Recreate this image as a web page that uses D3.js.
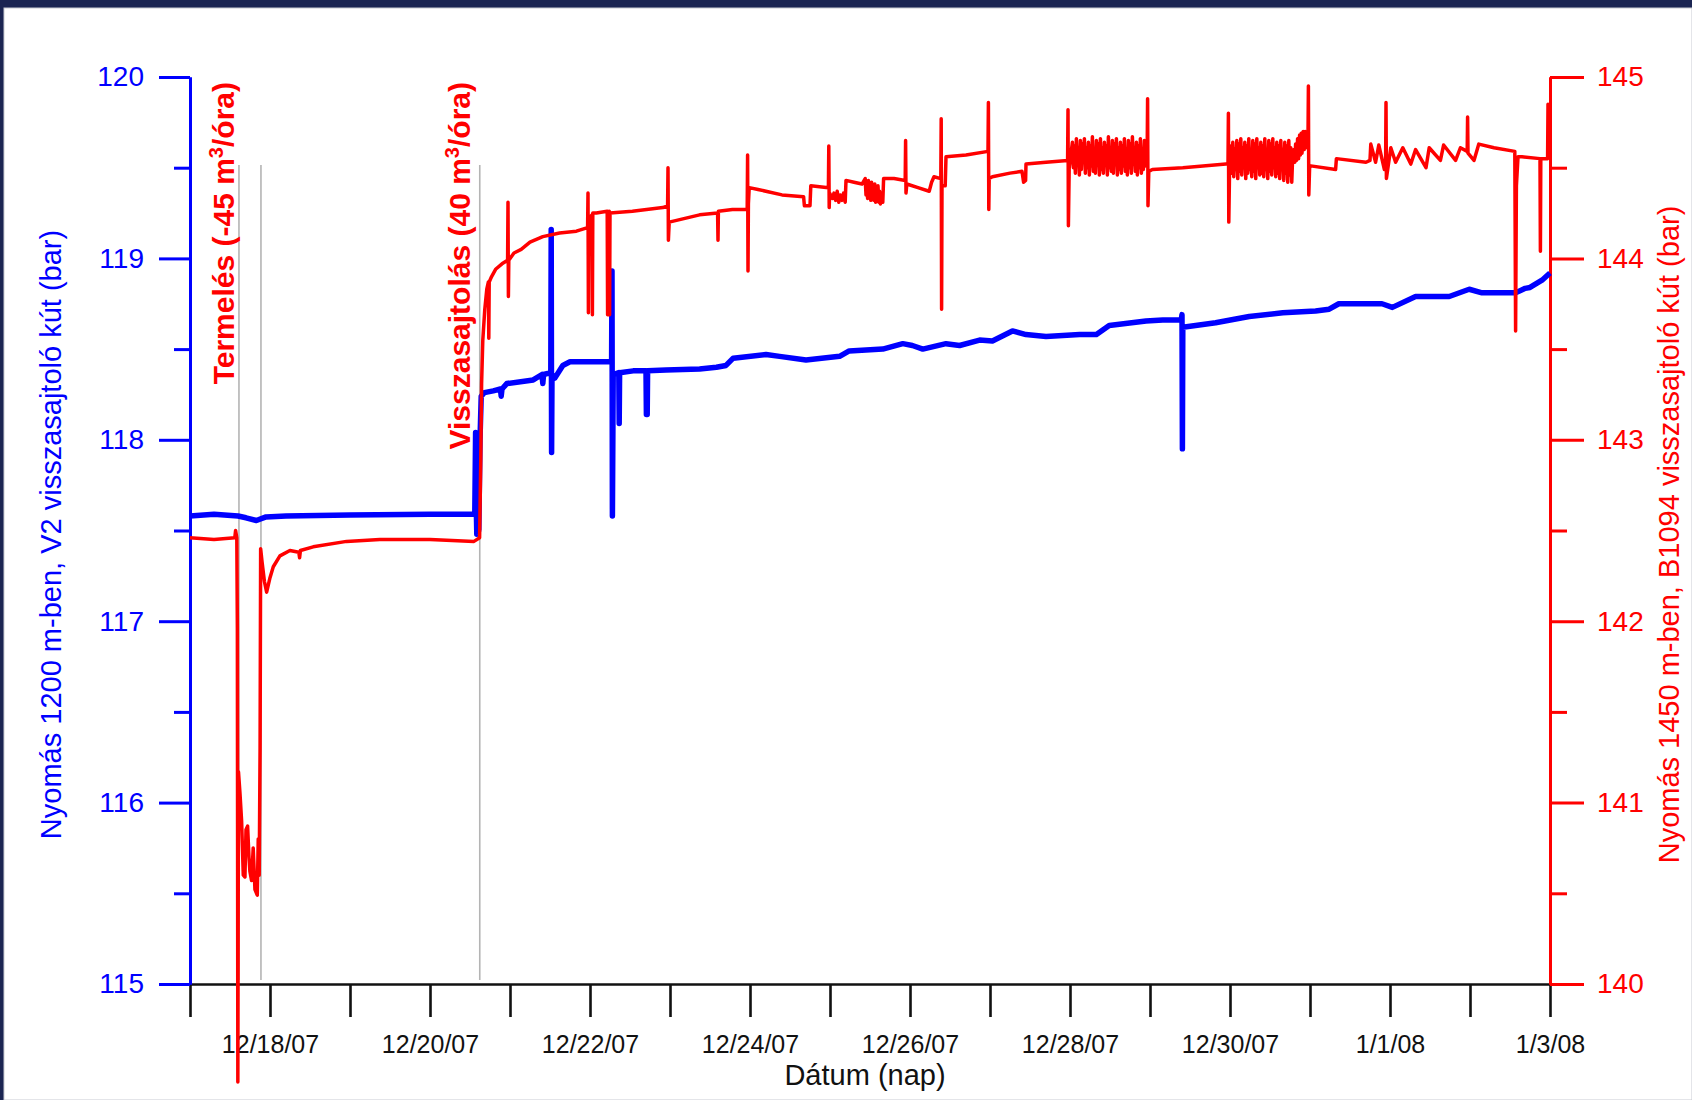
<!DOCTYPE html>
<html>
<head>
<meta charset="utf-8">
<script src="https://cdn.jsdelivr.net/npm/d3@7"></script>
<style>
  html, body { margin: 0; padding: 0; background: #1b2552; }
  svg { display: block; }
  text { font-family: "Liberation Sans", Arial, sans-serif; }
</style>
</head>
<body>
<svg id="chart" width="1692" height="1100"></svg>
<script>
// Time is given in days elapsed since 12/17/2007 00:00, pressure in bar.

// V2 injection well, pressure at 1200 m (left axis)
const v2Pressure = [
  [0, 117.58], [0.3, 117.59], [0.6, 117.58], [0.7, 117.57], [0.83, 117.555],
  [0.95, 117.575], [1.2, 117.58], [2.0, 117.585], [3.0, 117.59], [3.54, 117.59],
  [3.56, 117.60], [3.57, 118.04], [3.575, 117.70], [3.585, 117.48], [3.595, 117.60],
  [3.61, 117.50], [3.625, 118.0], [3.64, 118.24], [3.68, 118.26], [3.79, 118.27],
  [3.88, 118.28], [3.89, 118.24], [3.90, 118.28], [3.96, 118.31], [4.29, 118.33],
  [4.40, 118.36], [4.41, 118.31], [4.42, 118.36], [4.51, 118.37], [4.515, 119.16],
  [4.52, 117.93], [4.525, 118.36], [4.56, 118.34], [4.66, 118.41], [4.75, 118.43],
  [5.27, 118.43], [5.275, 118.93], [5.28, 117.58], [5.29, 118.36], [5.36, 118.37],
  [5.365, 118.09], [5.37, 118.37], [5.54, 118.38], [5.70, 118.38], [5.705, 118.14],
  [5.715, 118.14], [5.72, 118.38], [5.95, 118.385], [6.37, 118.39], [6.58, 118.40],
  [6.70, 118.41], [6.79, 118.45], [7.2, 118.47], [7.37, 118.46], [7.7, 118.44],
  [8.12, 118.46], [8.24, 118.49], [8.66, 118.50], [8.91, 118.53], [9.03, 118.52],
  [9.16, 118.50], [9.45, 118.53], [9.62, 118.52], [9.87, 118.55], [10.03, 118.545],
  [10.28, 118.60], [10.45, 118.58], [10.70, 118.57], [11.12, 118.58], [11.33, 118.58],
  [11.49, 118.63], [11.95, 118.655], [12.16, 118.66], [12.39, 118.66], [12.40, 118.69],
  [12.405, 117.95], [12.41, 118.62], [12.82, 118.645], [13.24, 118.68], [13.66, 118.70],
  [14.07, 118.71], [14.24, 118.72], [14.36, 118.75], [14.9, 118.75], [15.03, 118.73],
  [15.32, 118.79], [15.74, 118.79], [15.99, 118.83], [16.15, 118.81], [16.57, 118.81],
  [16.69, 118.835], [16.75, 118.84], [16.9, 118.88], [17.0, 118.92]
];

// B1094 injection well, pressure at 1450 m (right axis)
const b1094Pressure = [
  [0, 142.46], [0.3, 142.45], [0.56, 142.46], [0.57, 142.50], [0.585, 142.46],
  [0.592, 141.96], [0.598, 139.46], [0.606, 141.17], [0.625, 141.05], [0.645, 140.9],
  [0.666, 140.60], [0.687, 140.59], [0.70, 140.85], [0.72, 140.87], [0.737, 140.70],
  [0.749, 140.62], [0.77, 140.57], [0.79, 140.75], [0.812, 140.52], [0.841, 140.49],
  [0.853, 140.80], [0.865, 140.60], [0.876, 141.3], [0.883, 142.40], [0.90, 142.33],
  [0.93, 142.22], [0.958, 142.16], [1.0, 142.24], [1.041, 142.30], [1.124, 142.36],
  [1.249, 142.39], [1.36, 142.38], [1.37, 142.35], [1.38, 142.39], [1.54, 142.41],
  [1.957, 142.44], [2.373, 142.45], [3.0, 142.45], [3.55, 142.44], [3.62, 142.46],
  [3.635, 142.9], [3.645, 143.31], [3.66, 143.55], [3.685, 143.72], [3.71, 143.83],
  [3.73, 143.87], [3.735, 143.56], [3.74, 143.87], [3.77, 143.90], [3.82, 143.94],
  [3.90, 143.97], [3.97, 143.99], [3.975, 144.31], [3.98, 143.79], [3.985, 143.99],
  [4.05, 144.03], [4.14, 144.05], [4.25, 144.09], [4.41, 144.12], [4.62, 144.14],
  [4.83, 144.15], [4.97, 144.17], [4.975, 144.36], [4.98, 143.70], [4.985, 144.22],
  [5.025, 144.24], [5.03, 143.69], [5.035, 144.25], [5.08, 144.25], [5.215, 144.26],
  [5.22, 143.69], [5.225, 144.25], [5.24, 144.26], [5.245, 143.69], [5.25, 144.25],
  [5.53, 144.26], [5.91, 144.28], [5.97, 144.29], [5.975, 144.50], [5.98, 144.10],
  [5.99, 144.20], [6.37, 144.24], [6.595, 144.25], [6.60, 144.10], [6.605, 144.26],
  [6.78, 144.27], [6.965, 144.27], [6.97, 144.57], [6.975, 143.93], [6.98, 144.30],
  [6.99, 144.39], [7.1, 144.38], [7.4, 144.35], [7.67, 144.34], [7.68, 144.29],
  [7.75, 144.29], [7.76, 144.40], [7.98, 144.39], [7.985, 144.62], [7.99, 144.28],
  [7.995, 144.36], [8.03, 144.33], [8.05, 144.36], [8.07, 144.32], [8.09, 144.37],
  [8.11, 144.31], [8.13, 144.35], [8.15, 144.32], [8.17, 144.36], [8.19, 144.31],
  [8.20, 144.43], [8.30, 144.42], [8.40, 144.41],
  [8.44, 144.44], [8.45, 144.35], [8.46, 144.42], [8.47, 144.33], [8.48, 144.43],
  [8.49, 144.34], [8.50, 144.41], [8.51, 144.32], [8.52, 144.42], [8.53, 144.33],
  [8.54, 144.40], [8.55, 144.32], [8.56, 144.41], [8.57, 144.31], [8.58, 144.39],
  [8.59, 144.32], [8.60, 144.40], [8.61, 144.31], [8.62, 144.37], [8.63, 144.30],
  [8.64, 144.36], [8.66, 144.31], [8.67, 144.44], [8.80, 144.44], [8.94, 144.43],
  [8.945, 144.65], [8.95, 144.36], [8.96, 144.41], [9.10, 144.39], [9.24, 144.37],
  [9.27, 144.42], [9.30, 144.45], [9.385, 144.44], [9.39, 144.77], [9.395, 143.72],
  [9.40, 144.40], [9.44, 144.40], [9.45, 144.56], [9.70, 144.57], [9.975, 144.59],
  [9.98, 144.86], [9.985, 144.27], [9.99, 144.44], [10.03, 144.45], [10.25, 144.47],
  [10.40, 144.48], [10.42, 144.42], [10.445, 144.43], [10.45, 144.52], [10.70, 144.53],
  [10.97, 144.54], [10.975, 144.82], [10.98, 144.18], [10.99, 144.50],
  [11.030, 144.64], [11.042, 144.50], [11.055, 144.62], [11.067, 144.47], [11.080, 144.66],
  [11.092, 144.52], [11.105, 144.60], [11.117, 144.46], [11.130, 144.65], [11.142, 144.49],
  [11.155, 144.63], [11.167, 144.53], [11.180, 144.66], [11.192, 144.47], [11.205, 144.61],
  [11.217, 144.50], [11.230, 144.64], [11.242, 144.46], [11.255, 144.62], [11.267, 144.51],
  [11.280, 144.67], [11.292, 144.48], [11.305, 144.60], [11.317, 144.47], [11.330, 144.65],
  [11.342, 144.52], [11.355, 144.63], [11.367, 144.46], [11.380, 144.66], [11.392, 144.49],
  [11.405, 144.61], [11.417, 144.47], [11.430, 144.64], [11.442, 144.53], [11.455, 144.62],
  [11.467, 144.46], [11.480, 144.67], [11.492, 144.50], [11.505, 144.60], [11.517, 144.48],
  [11.530, 144.65], [11.542, 144.47], [11.555, 144.63], [11.567, 144.52], [11.580, 144.66],
  [11.592, 144.46], [11.605, 144.61], [11.617, 144.49], [11.630, 144.64], [11.642, 144.47],
  [11.655, 144.62], [11.667, 144.51], [11.680, 144.66], [11.692, 144.48], [11.705, 144.60],
  [11.717, 144.46], [11.730, 144.65], [11.742, 144.50], [11.755, 144.63], [11.767, 144.47],
  [11.780, 144.67], [11.792, 144.52], [11.805, 144.61], [11.817, 144.48], [11.830, 144.64],
  [11.842, 144.46], [11.855, 144.62], [11.867, 144.50], [11.880, 144.66], [11.892, 144.47],
  [11.905, 144.60], [11.917, 144.49], [11.930, 144.65], [11.942, 144.51], [11.955, 144.62],
  [11.965, 144.60], [11.97, 144.88], [11.975, 144.29], [11.985, 144.48], [12.03, 144.49],
  [12.41, 144.50], [12.95, 144.52], [12.975, 144.52], [12.98, 144.80], [12.985, 144.20],
  [12.995, 144.50],
  [13.010, 144.62], [13.022, 144.47], [13.035, 144.64], [13.047, 144.45], [13.060, 144.60],
  [13.072, 144.49], [13.085, 144.65], [13.097, 144.44], [13.110, 144.63], [13.122, 144.48],
  [13.135, 144.66], [13.147, 144.46], [13.160, 144.61], [13.172, 144.50], [13.185, 144.64],
  [13.197, 144.44], [13.210, 144.62], [13.222, 144.47], [13.235, 144.66], [13.247, 144.49],
  [13.260, 144.60], [13.272, 144.45], [13.285, 144.65], [13.297, 144.48], [13.310, 144.63],
  [13.322, 144.44], [13.335, 144.66], [13.347, 144.50], [13.360, 144.61], [13.372, 144.46],
  [13.385, 144.64], [13.397, 144.47], [13.410, 144.62], [13.422, 144.45], [13.435, 144.66],
  [13.447, 144.49], [13.460, 144.60], [13.472, 144.44], [13.485, 144.65], [13.497, 144.48],
  [13.510, 144.63], [13.522, 144.46], [13.535, 144.66], [13.547, 144.50], [13.560, 144.61],
  [13.572, 144.45], [13.585, 144.64], [13.597, 144.47], [13.610, 144.62], [13.622, 144.44],
  [13.635, 144.65], [13.647, 144.49], [13.660, 144.60], [13.672, 144.43], [13.685, 144.64],
  [13.697, 144.47], [13.710, 144.62], [13.722, 144.42], [13.735, 144.65], [13.747, 144.46],
  [13.760, 144.61], [13.772, 144.42], [13.785, 144.58], [13.80, 144.60], [13.81, 144.53],
  [13.82, 144.63], [13.83, 144.54], [13.845, 144.66], [13.857, 144.55], [13.87, 144.68],
  [13.88, 144.57], [13.89, 144.69], [13.90, 144.58], [13.915, 144.70], [13.927, 144.60],
  [13.94, 144.70], [13.95, 144.61], [13.96, 144.68], [13.975, 144.66], [13.98, 144.95],
  [13.985, 144.35], [13.995, 144.50], [14.01, 144.51],
  [14.32, 144.49], [14.33, 144.55], [14.70, 144.53], [14.75, 144.54], [14.76, 144.63],
  [14.82, 144.53], [14.86, 144.625], [14.93, 144.49], [14.945, 144.52], [14.95, 144.86],
  [14.955, 144.44], [15.01, 144.61], [15.07, 144.53], [15.16, 144.61], [15.26, 144.52],
  [15.32, 144.60], [15.45, 144.50], [15.49, 144.61], [15.63, 144.54], [15.67, 144.625],
  [15.82, 144.54], [15.88, 144.61], [15.965, 144.59], [15.97, 144.78], [15.975, 144.58],
  [16.05, 144.54], [16.11, 144.63], [16.30, 144.61], [16.56, 144.59], [16.57, 143.60],
  [16.58, 144.40], [16.60, 144.56], [16.65, 144.56], [16.875, 144.55], [16.88, 144.04],
  [16.885, 144.55], [16.97, 144.55], [16.975, 144.85], [16.985, 144.56], [17.0, 144.55]
];

// Start of production, end of production, start of injection (days)
const eventDays = [0.612, 0.887, 3.622];

const leftMajor = [115, 116, 117, 118, 119, 120];
const leftMinor = [115.5, 116.5, 117.5, 118.5, 119.5];
const rightMajor = [140, 141, 142, 143, 144, 145];
const rightMinor = [140.5, 141.5, 142.5, 143.5, 144.5];

const startDate = new Date(2007, 11, 17);
const endDate = new Date(2008, 0, 3);
const dayMs = 864e5;
const toDate = t => new Date(startDate.getTime() + t * dayMs);

const BLUE = "#0000ff";
const RED = "#ff0000";

const svg = d3.select("#chart");

// page frame
svg.append("rect").attr("x", 0).attr("y", 0).attr("width", 1692).attr("height", 1100).attr("fill", "#1b2552");
svg.append("rect").attr("x", 4).attr("y", 8).attr("width", 1688).attr("height", 1092)
  .attr("fill", "#ffffff").attr("stroke", "#c9cbd2").attr("stroke-width", 1);

const plot = { left: 190, right: 1550, top: 77, bottom: 984 };

const x = d3.scaleTime().domain([startDate, endDate]).range([plot.left, plot.right]);
const yL = d3.scaleLinear().domain([115, 120]).range([plot.bottom, plot.top]);
const yR = d3.scaleLinear().domain([140, 145]).range([plot.bottom, plot.top]);

// event markers
svg.append("g").selectAll("line").data(eventDays).join("line")
  .attr("x1", d => x(toDate(d))).attr("x2", d => x(toDate(d)))
  .attr("y1", 165).attr("y2", 980)
  .attr("stroke", "#b4b4b4").attr("stroke-width", 1.6);

function styleAxis(g, color, width, fontSize) {
  g.select(".domain").attr("stroke", color).attr("stroke-width", width);
  g.selectAll(".tick line").attr("stroke", color).attr("stroke-width", width);
  g.selectAll(".tick text").attr("fill", color).attr("font-size", fontSize)
    .attr("font-family", '"Liberation Sans", Arial, sans-serif');
}

// x axis: a tick per day, labels every second day
const fmt = d3.timeFormat("%-m/%-d/%y");
const gx = svg.append("g").attr("transform", `translate(0,${plot.bottom})`)
  .call(d3.axisBottom(x).ticks(d3.timeDay.every(1)).tickSize(33).tickSizeOuter(0).tickPadding(18)
    .tickFormat(d => (d3.timeDay.count(startDate, d) % 2 === 1 ? fmt(d) : "")));
styleAxis(gx, "#111111", 2.6, 25);

// left axis
const gLmin = svg.append("g").attr("transform", `translate(${plot.left},0)`)
  .call(d3.axisLeft(yL).tickValues(leftMinor).tickSize(16).tickSizeOuter(0).tickFormat(""));
styleAxis(gLmin, BLUE, 3, 28);
const gL = svg.append("g").attr("transform", `translate(${plot.left},0)`)
  .call(d3.axisLeft(yL).tickValues(leftMajor).tickSize(31).tickSizeOuter(0).tickPadding(15).tickFormat(d3.format("d")));
styleAxis(gL, BLUE, 3, 28);

// right axis
const gRmin = svg.append("g").attr("transform", `translate(${plot.right},0)`)
  .call(d3.axisRight(yR).tickValues(rightMinor).tickSize(17).tickSizeOuter(0).tickFormat(""));
styleAxis(gRmin, RED, 3, 28);
const gR = svg.append("g").attr("transform", `translate(${plot.right},0)`)
  .call(d3.axisRight(yR).tickValues(rightMajor).tickSize(34).tickSizeOuter(0).tickPadding(13).tickFormat(d3.format("d")));
styleAxis(gR, RED, 3, 28);

// pressure curves
const lineL = d3.line().x(d => x(toDate(d[0]))).y(d => yL(d[1]));
const lineR = d3.line().x(d => x(toDate(d[0]))).y(d => yR(d[1]));

svg.append("path").datum(v2Pressure).attr("d", lineL)
  .attr("fill", "none").attr("stroke", BLUE).attr("stroke-width", 5.5)
  .attr("stroke-linejoin", "round");
svg.append("path").datum(b1094Pressure).attr("d", lineR)
  .attr("fill", "none").attr("stroke", RED).attr("stroke-width", 3.5)
  .attr("stroke-linejoin", "round");

// axis titles
svg.append("text").attr("transform", `translate(61,${(plot.top + plot.bottom) / 2 + 4}) rotate(-90)`)
  .attr("text-anchor", "middle").attr("font-size", 29).attr("fill", BLUE)
  .text("Nyomás 1200 m-ben, V2 visszasajtoló kút (bar)");
svg.append("text").attr("transform", `translate(1679,${(plot.top + plot.bottom) / 2 + 4}) rotate(-90)`)
  .attr("text-anchor", "middle").attr("font-size", 29).attr("fill", RED)
  .text("Nyomás 1450 m-ben, B1094 visszasajtoló kút (bar)");
svg.append("text").attr("x", (plot.left + plot.right) / 2 - 5).attr("y", 1085)
  .attr("text-anchor", "middle").attr("font-size", 29).attr("fill", "#111111")
  .text("Dátum (nap)");

// event annotations
function annotate(day, dx, before, after) {
  const t = svg.append("text")
    .attr("transform", `translate(${x(toDate(day)) + dx},82) rotate(-90)`)
    .attr("text-anchor", "end").attr("font-size", 30).attr("font-weight", "bold").attr("fill", RED);
  t.append("tspan").text(before);
  t.append("tspan").attr("dy", -11).attr("font-size", 20).text("3");
  t.append("tspan").attr("dy", 11).text(after);
}
annotate(eventDays[0], -5, "Termelés (-45 m", "/óra)");
annotate(eventDays[2], -10, "Visszasajtolás (40 m", "/óra)");
</script>
</body>
</html>
